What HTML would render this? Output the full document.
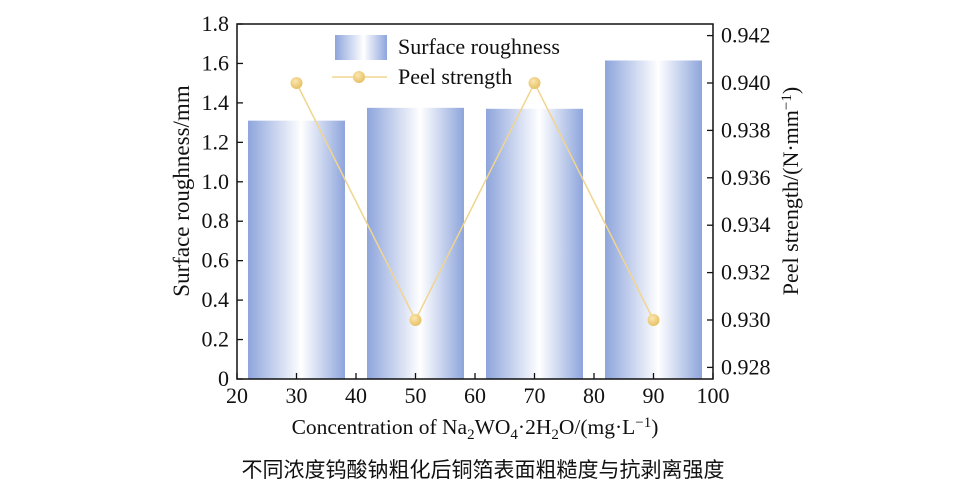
<!DOCTYPE html>
<html><head><meta charset="utf-8"><style>
body{margin:0;background:#fff;}
svg text{font-family:"Liberation Serif","Noto Serif CJK SC",serif;fill:#111;}
</style></head><body>
<svg width="958" height="491" viewBox="0 0 958 491">
<defs>
<linearGradient id="bg" x1="0" x2="1" y1="0" y2="0">
<stop offset="0" stop-color="#8ea5dc"/><stop offset="0.55" stop-color="#ffffff"/><stop offset="1" stop-color="#8ea5dc"/>
</linearGradient>
<radialGradient id="dot" cx="0.4" cy="0.35" r="0.6"><stop offset="0" stop-color="#fbe7b0"/><stop offset="1" stop-color="#e8c36a"/></radialGradient>
</defs>
<g id="plot"></g>
<text x="475" y="434" font-size="21.5" text-anchor="middle">Concentration of Na<tspan font-size="15" dy="5">2</tspan><tspan dy="-5">WO</tspan><tspan font-size="15" dy="5">4</tspan><tspan dy="-5">·2H</tspan><tspan font-size="15" dy="5">2</tspan><tspan dy="-5">O/(mg·L</tspan><tspan font-size="15" dy="-7">−1</tspan><tspan dy="7">)</tspan></text>
<text transform="translate(189,191) rotate(-90)" font-size="23" text-anchor="middle">Surface roughness/mm</text>
<text transform="translate(798,191) rotate(-90)" font-size="22" text-anchor="middle">Peel strength/(N·mm<tspan font-size="15" dy="-7">−1</tspan><tspan dy="7">)</tspan></text>
<text x="483" y="477" font-size="21" text-anchor="middle" style="font-family:'Noto Sans CJK SC',sans-serif">不同浓度钨酸钠粗化后铜箔表面粗糙度与抗剥离强度</text>
</svg>
<script>
const categories=[30,50,70,90];
const roughness=[1.31,1.375,1.37,1.615];
const peel=[0.940,0.930,0.940,0.930];
const xTicks=[20,30,40,50,60,70,80,90,100];
const yTicks=[0,0.2,0.4,0.6,0.8,1.0,1.2,1.4,1.6,1.8];
const y2Ticks=[0.928,0.930,0.932,0.934,0.936,0.938,0.940,0.942];
const L=237,R=713,T=24,B=379;
const sx=v=>L+(v-20)/80*(R-L);
const sy=v=>B-v/1.8*(B-T);
const sy2=v=>320-(v-0.930)/0.010*237;
const ns="http://www.w3.org/2000/svg";
const g=document.getElementById('plot');
function mk(t,a,p){const e=document.createElementNS(ns,t);for(const k in a)e.setAttribute(k,a[k]);(p||g).appendChild(e);return e;}
const bw=sx(36.3)-sx(20);
categories.forEach((c,i)=>{const r=mk('rect',{x:sx(c)-bw/2,y:sy(roughness[i]),width:bw,height:B-sy(roughness[i]),fill:'url(#bg)'});

});
const pl=mk('polyline',{points:categories.map((c,i)=>sx(c)+','+sy2(peel[i])).join(' '),fill:'none',stroke:'#f0d590','stroke-width':1.5});


categories.forEach((c,i)=>{const d=mk('circle',{cx:sx(c),cy:sy2(peel[i]),r:6,fill:'url(#dot)'});

});
const fr=mk('rect',{x:L,y:T,width:R-L,height:B-T,fill:'none',stroke:'#111','stroke-width':1.5});


xTicks.forEach(v=>{mk('line',{x1:sx(v),x2:sx(v),y1:B,y2:B-6,stroke:'#111','stroke-width':1.3});
const t=mk('text',{x:sx(v),y:B+24,'font-size':22,'text-anchor':'middle'});t.textContent=v;

});
yTicks.forEach(v=>{mk('line',{x1:L,x2:L+6,y1:sy(v),y2:sy(v),stroke:'#111','stroke-width':1.3});
const t=mk('text',{x:L-8,y:sy(v)+7,'font-size':22,'text-anchor':'end'});t.textContent=v===0?'0':v.toFixed(1);

});
y2Ticks.forEach(v=>{mk('line',{x1:R,x2:R-6,y1:sy2(v),y2:sy2(v),stroke:'#111','stroke-width':1.3});
const t=mk('text',{x:R+8,y:sy2(v)+7,'font-size':22,'text-anchor':'start'});t.textContent=v.toFixed(3);

});
const lg=mk('g',{});


mk('rect',{x:335,y:35,width:52,height:25,fill:'url(#bg)'},lg);
const t1=mk('text',{x:398,y:54,'font-size':22},lg);t1.textContent='Surface roughness';
mk('line',{x1:332,x2:387,y1:77,y2:77,stroke:'#f0d590','stroke-width':1.5},lg);
mk('circle',{cx:359,cy:77,r:6,fill:'url(#dot)'},lg);
const t2=mk('text',{x:398,y:84,'font-size':22},lg);t2.textContent='Peel strength';
</script>
</body></html>
